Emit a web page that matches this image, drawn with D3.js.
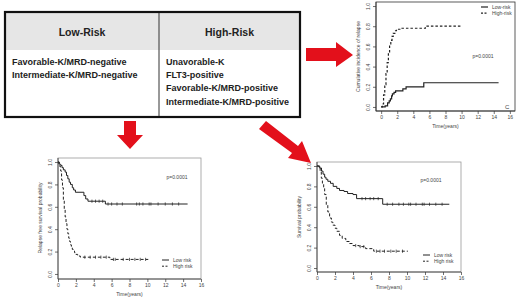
<!DOCTYPE html>
<html>
<head>
<meta charset="utf-8">
<script src="https://cdn.jsdelivr.net/npm/d3@7"></script>
<style>
  body { margin: 0; background: #fff; }
  svg { display: block; }
</style>
</head>
<body>
<div id="fig"></div>
<script>
// table contents
const lowRisk = ["Favorable-K/MRD-negative", "Intermediate-K/MRD-negative"];
const highRisk = ["Unavorable-K", "FLT3-positive", "Favorable-K/MRD-positive", "Intermediate-K/MRD-positive"];

// x ticks (years) and y ticks shared by the three plots
const timeTicks = [0, 2, 4, 6, 8, 10, 12, 14, 16];
const probTicks = [0.0, 0.2, 0.4, 0.6, 0.8, 1.0];

// cumulative incidence of relapse (step starts)
const cirLowT  = [0, 0.5, 0.8, 1.0, 1.15, 1.3, 1.4, 1.6, 1.8, 2.7, 3.1, 5.3];
const cirLowV  = [0, 0.01, 0.04, 0.06, 0.08, 0.11, 0.13, 0.145, 0.16, 0.18, 0.20, 0.24];
const cirLowEnd = 14.6;
const cirHighT = [0, 0.15, 0.3, 0.45, 0.6, 0.75, 0.9, 1.05, 1.2, 1.35, 1.5, 1.7, 1.9, 2.4, 5.5];
const cirHighV = [0, 0.03, 0.12, 0.22, 0.33, 0.44, 0.54, 0.61, 0.66, 0.70, 0.73, 0.755, 0.77, 0.78, 0.80];
const cirHighEnd = 10;

// relapse free survival
const rfsLowT  = [0, 0.15, 0.3, 0.45, 0.6, 0.8, 0.95, 1.1, 1.25, 1.4, 1.6, 1.75, 1.95, 2.9, 3.1, 3.35, 5.3];
const rfsLowV  = [1.0, 0.98, 0.97, 0.95, 0.93, 0.91, 0.88, 0.85, 0.82, 0.80, 0.77, 0.75, 0.73, 0.70, 0.67, 0.65, 0.625];
const rfsLowEnd = 14.5;
const rfsLowCens = [3.8, 4.2, 4.6, 5.0, 5.6, 6.0, 6.6, 7.2, 8.8, 9.1, 9.5, 10.2, 10.4, 11.2, 12.0, 12.8, 13.5];
const rfsHighT = [0, 0.1, 0.2, 0.3, 0.4, 0.5, 0.6, 0.7, 0.8, 0.9, 1.0, 1.1, 1.2, 1.3, 1.4, 1.5, 1.6, 1.7, 1.85, 2.0, 2.2, 2.5, 5.8];
const rfsHighV = [1.0, 0.98, 0.96, 0.92, 0.84, 0.77, 0.66, 0.58, 0.51, 0.45, 0.40, 0.36, 0.32, 0.29, 0.26, 0.24, 0.22, 0.205, 0.19, 0.175, 0.16, 0.15, 0.13];
const rfsHighEnd = 10.1;
const rfsHighCens = [3.0, 3.6, 4.2, 4.8, 5.4, 6.2, 6.4, 7.3, 8.0, 8.6, 9.2, 9.8];

// overall survival
const osLowT  = [0, 0.3, 0.5, 0.67, 0.85, 1.0, 1.2, 1.5, 1.8, 2.2, 2.5, 3.0, 3.4, 4.0, 4.4, 7.3];
const osLowV  = [1.0, 0.98, 0.95, 0.92, 0.89, 0.87, 0.85, 0.83, 0.80, 0.78, 0.76, 0.75, 0.73, 0.72, 0.68, 0.625];
const osLowEnd = 14.7;
const osLowCens = [5.0, 5.4, 5.9, 6.3, 6.8, 7.8, 8.4, 9.1, 9.6, 10.2, 10.4, 11.0, 11.7, 11.9, 12.5, 13.2, 13.9];
const osHighT = [0, 0.2, 0.35, 0.48, 0.6, 0.74, 0.85, 1.03, 1.2, 1.4, 1.6, 1.76, 2.0, 2.2, 2.5, 2.8, 3.2, 3.6, 4.0, 4.7, 5.4, 6.3];
const osHighV = [1.0, 0.98, 0.94, 0.88, 0.83, 0.78, 0.72, 0.62, 0.55, 0.49, 0.45, 0.42, 0.39, 0.36, 0.32, 0.29, 0.26, 0.24, 0.22, 0.21, 0.19, 0.165];
const osHighEnd = 10.1;
const osHighCens = [4.3, 4.8, 5.2, 6.6, 7.0, 7.5, 8.2, 8.8, 9.5];

const W = 520, H = 303;
const svg = d3.select("#fig").append("svg")
    .attr("width", W)
    .attr("height", H);

const FONT = "Liberation Sans, Arial, sans-serif";

// ---------- table ----------
const tb = {x0: 5, x1: 300, y0: 12, y1: 117, mid: 159, head: 50};
svg.append("rect")
    .attr("x", tb.x0).attr("y", tb.y0)
    .attr("width", tb.x1 - tb.x0).attr("height", tb.head - tb.y0)
    .attr("fill", "#e6e6e6");
svg.append("line")
    .attr("x1", tb.mid).attr("x2", tb.mid)
    .attr("y1", tb.y0).attr("y2", tb.y1)
    .attr("stroke", "#333").attr("stroke-width", 1);
svg.append("rect")
    .attr("x", tb.x0).attr("y", tb.y0)
    .attr("width", tb.x1 - tb.x0).attr("height", tb.y1 - tb.y0)
    .attr("fill", "none").attr("stroke", "#111").attr("stroke-width", 2.2);

svg.selectAll(".head")
    .data(["Low-Risk", "High-Risk"])
    .join("text")
    .attr("x", (d, i) => i == 0 ? (tb.x0 + tb.mid) / 2 : (tb.mid + tb.x1) / 2)
    .attr("y", 36)
    .attr("text-anchor", "middle")
    .style("font-family", FONT).style("font-weight", "bold")
    .style("font-size", "10.5px").style("fill", "#222")
    .text(d => d);

const rowY = d3.scaleLinear().domain([0, 3]).range([64.5, 104.5]);
svg.selectAll(".low")
    .data(lowRisk)
    .join("text")
    .attr("x", 12).attr("y", (d, i) => rowY(i))
    .style("font-family", FONT).style("font-weight", "bold")
    .style("font-size", "9px").style("fill", "#222")
    .text(d => d);
svg.selectAll(".high")
    .data(highRisk)
    .join("text")
    .attr("x", 166).attr("y", (d, i) => rowY(i))
    .style("font-family", FONT).style("font-weight", "bold")
    .style("font-size", "9px").style("fill", "#222")
    .text(d => d);

// ---------- red arrows ----------
const red = "#e3101b";
svg.append("polygon")   // right
    .attr("points", "306,48 336,48 336,42 353,55 336,67 336,61 306,61")
    .attr("fill", red);
svg.append("polygon")   // down
    .attr("points", "124,121 136,121 136,135 143,135 130,149 117,135 124,135")
    .attr("fill", red);
svg.append("polygon")   // diagonal
    .attr("points", "266,121 298,146 302,141 311,163 288,158 292,153 259,129")
    .attr("fill", red);

// ---------- curve plots ----------
function steps(ts, vs, end) {
    const pts = ts.map((t, i) => [t, vs[i]]);
    pts.push([end, vs[vs.length - 1]]);
    return pts;
}

function stepAt(ts, vs, t) {
    let v = vs[0];
    ts.forEach((s, i) => { if (s <= t) v = vs[i]; });
    return v;
}

function drawPlot(cfg) {
    const g = svg.append("g");
    const x = d3.scaleLinear().domain(cfg.xDomain).range([cfg.box.x0, cfg.box.x1]);
    const y = d3.scaleLinear().domain(cfg.yDomain).range([cfg.box.y1, cfg.box.y0]);

    // frame
    g.append("rect")
        .attr("x", cfg.box.x0).attr("y", cfg.box.y0)
        .attr("width", cfg.box.x1 - cfg.box.x0).attr("height", cfg.box.y1 - cfg.box.y0)
        .attr("fill", "none").attr("stroke", cfg.frame).attr("stroke-width", 0.8);

    // axes
    const xa = g.append("g")
        .attr("transform", `translate(0,${cfg.box.y1})`)
        .call(d3.axisBottom(x).tickValues(timeTicks).tickFormat(d3.format("d")).tickSize(3).tickPadding(1.5));
    const ya = g.append("g")
        .attr("transform", `translate(${cfg.box.x0},0)`)
        .call(d3.axisLeft(y).tickValues(probTicks).tickFormat(d3.format(".1f")).tickSize(3).tickPadding(2));
    [xa, ya].forEach(a => {
        a.select(".domain").attr("stroke", "#333").attr("stroke-width", 0.8)
            .attr("d", a === xa ? `M${cfg.box.x0},0H${cfg.box.x1}` : `M0,${cfg.box.y1}V${cfg.box.y0}`);
        a.selectAll(".tick line").attr("stroke", "#333").attr("stroke-width", 0.7);
        a.selectAll("text").style("font-family", FONT).style("font-size", "5px").style("fill", "#444");
    });
    ya.selectAll(".tick text")
        .attr("transform", "rotate(-90)")
        .attr("x", 0).attr("y", -6.5).attr("dy", 0)
        .attr("text-anchor", "middle");

    // labels
    g.append("text")
        .attr("x", (x(0) + x(16)) / 2).attr("y", cfg.box.y1 + 17)
        .attr("text-anchor", "middle")
        .style("font-family", FONT).style("font-size", "5px").style("fill", "#444")
        .text("Time(years)");
    g.append("text")
        .attr("transform", `translate(${cfg.box.x0 - 16},${(y(0) + y(1)) / 2}) rotate(-90)`)
        .attr("text-anchor", "middle")
        .style("font-family", FONT).style("font-size", "5px").style("fill", "#444")
        .text(cfg.yLabel);
    g.append("text")
        .attr("x", cfg.p[0]).attr("y", cfg.p[1])
        .attr("text-anchor", "middle")
        .style("font-family", FONT).style("font-size", "5px").style("fill", "#444")
        .text("p=0.0001");

    const line = d3.line()
        .x(d => x(d[0])).y(d => y(d[1]))
        .curve(d3.curveStepAfter);

    cfg.series.forEach(s => {
        g.append("path")
            .datum(steps(s.t, s.v, s.end))
            .attr("d", line)
            .attr("fill", "none")
            .attr("stroke", "#222")
            .attr("stroke-width", cfg.lw)
            .attr("stroke-dasharray", s.dash ? cfg.dash : null);
        if (s.cens) {
            g.selectAll(null)
                .data(s.cens)
                .join("line")
                .attr("x1", d => x(d)).attr("x2", d => x(d))
                .attr("y1", d => y(stepAt(s.t, s.v, d)) - 1.6)
                .attr("y2", d => y(stepAt(s.t, s.v, d)) + 1.6)
                .attr("stroke", "#222").attr("stroke-width", 0.7);
        }
    });

    // legend
    const lg = g.append("g");
    cfg.legend.forEach((name, i) => {
        const ly = cfg.leg[1] + i * 6.2;
        lg.append("line")
            .attr("x1", cfg.leg[0]).attr("x2", cfg.leg[0] + 7)
            .attr("y1", ly).attr("y2", ly)
            .attr("stroke", "#222").attr("stroke-width", cfg.lw)
            .attr("stroke-dasharray", i == 1 ? "2,1.5" : null);
        lg.append("text")
            .attr("x", cfg.leg[0] + 11).attr("y", ly + 1.7)
            .style("font-family", FONT).style("font-size", "5px").style("fill", "#444")
            .text(name);
    });

    if (cfg.tag) {
        g.append("text")
            .attr("x", cfg.tag[0]).attr("y", cfg.tag[1])
            .style("font-family", FONT).style("font-size", "6px").style("fill", "#444")
            .text("C");
    }
}

// top right: cumulative incidence of relapse (R style)
drawPlot({
    box: {x0: 376, x1: 515, y0: 2, y1: 111},
    xDomain: [-0.64, 16.64], yDomain: [-0.04, 1.04],
    frame: "#333", lw: 1.2, dash: "2.5,2",
    yLabel: "Cumulative incidence of relapse",
    p: [483, 58], leg: [481, 7], tag: [505, 109],
    legend: ["Low-risk", "High-risk"],
    series: [
        {t: cirLowT, v: cirLowV, end: cirLowEnd},
        {t: cirHighT, v: cirHighV, end: cirHighEnd, dash: true}
    ]
});

// bottom left: relapse free survival
drawPlot({
    box: {x0: 58, x1: 201, y0: 158, y1: 279},
    xDomain: [0, 16], yDomain: [-0.045, 1.036],
    frame: "#999", lw: 1, dash: "3,2",
    yLabel: "Relapse free survival probability",
    p: [177, 179], leg: [162, 260],
    legend: ["Low risk", "High risk"],
    series: [
        {t: rfsLowT, v: rfsLowV, end: rfsLowEnd, cens: rfsLowCens},
        {t: rfsHighT, v: rfsHighV, end: rfsHighEnd, cens: rfsHighCens, dash: true}
    ]
});

// bottom right: overall survival
drawPlot({
    box: {x0: 317, x1: 461, y0: 162, y1: 272},
    xDomain: [0, 16], yDomain: [-0.039, 1.039],
    frame: "#999", lw: 1, dash: "3,2",
    yLabel: "Survival probability",
    p: [431, 182], leg: [423, 255],
    legend: ["Low risk", "High risk"],
    series: [
        {t: osLowT, v: osLowV, end: osLowEnd, cens: osLowCens},
        {t: osHighT, v: osHighV, end: osHighEnd, cens: osHighCens, dash: true}
    ]
});
</script>
</body>
</html>
